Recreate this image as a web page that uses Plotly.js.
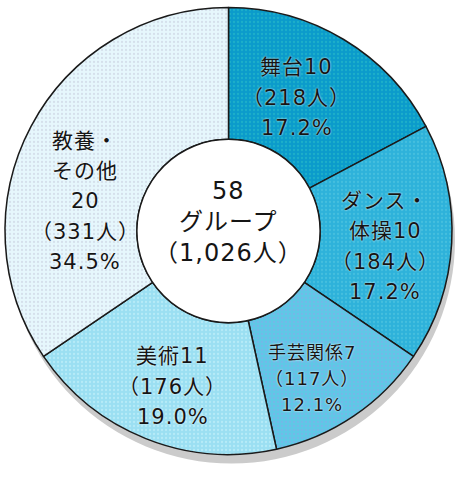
<!DOCTYPE html>
<html><head><meta charset="utf-8">
<script src="https://cdn.plot.ly/plotly-3.0.1.min.js"></script>
<style>html,body{margin:0;padding:0;background:#fff;}#chart{width:463px;height:478px;}
.annotation-text{letter-spacing:1px;}</style>
</head><body><div id="chart"></div>
<script>
const categories = ['舞台', 'ダンス・体操', '手芸関係', '美術', '教養・その他'];
const categoryLines = [['舞台10'], ['ダンス・', '体操10'], ['手芸関係7'], ['美術11'], ['教養・', 'その他', '20']];
const groups = [10, 10, 7, 11, 20];
const people = [218, 184, 117, 176, 331];
const percents = ['17.2%', '17.2%', '12.1%', '19.0%', '34.5%'];
const centerLines = ['58', 'グループ', '（1,026人）'];

const colors = ['#0b9bcb', '#2eb2da', '#5fc7e6', '#9bdff2', '#e6f7fc'];
const dotColors = ['#2ec2c8', '#5ccbe2', '#8aa8ea', '#d0f6fc', '#c4c8dc'];
// label placement style (fraction of radius, angle nudge in degrees, font size)
const labelRFrac = [0.67, 0.704, 0.76, 0.74, 0.655];
const labelAngNudge = [-4, 2.6, 4.5, -2, -16.3];
const labelSizes = [21, 21, 18, 21, 21];

const W = 463, H = 478;
const x0 = 5, x1 = 452, y0 = 5, y1 = 457;
const sdx = 3, sdy = 9;
const holeFrac = 0.41;
const cx = (x0 + x1) / 2, cy = (y0 + y1) / 2;
const R = Math.min(x1 - x0, y1 - y0) / 2;
const r = R * holeFrac;
const FONT = '"DejaVu Sans", "Noto Sans CJK JP", sans-serif';
const halo = '0 0 2px #ffffff';

const shadow = {
  type: 'pie', values: [1], labels: ['shadow'], sort: false,
  marker: {colors: ['#cbcbcb'], line: {width: 0}},
  textinfo: 'none', hoverinfo: 'skip', showlegend: false,
  domain: {x: [(x0 + sdx) / W, (x1 + sdx) / W], y: [1 - (y1 + sdy) / H, 1 - (y0 + sdy) / H]}
};

const main = {
  type: 'pie', values: groups, labels: categories,
  sort: false, direction: 'clockwise', rotation: 0, hole: holeFrac,
  textinfo: 'none',
  marker: {colors: colors, line: {color: '#1a1a1a', width: 1.5},
    pattern: {shape: '.', fgcolor: dotColors, size: 4, solidity: 0.25, fillmode: 'overlay'}},
  hoverinfo: 'none', showlegend: false,
  domain: {x: [x0 / W, x1 / W], y: [1 - y1 / H, 1 - y0 / H]}
};

const center = {
  type: 'pie', values: [1], labels: ['center'], sort: false,
  marker: {colors: ['#ffffff'], line: {color: '#1a1a1a', width: 1.5}},
  textinfo: 'none', hoverinfo: 'skip', showlegend: false,
  domain: {x: [(cx - r) / W, (cx + r) / W], y: [1 - (cy + r) / H, 1 - (cy - r) / H]}
};

const annotations = [];
function addBlock(lines, px, py, size, gap) {
  const n = lines.length;
  lines.forEach((t, i) => {
    annotations.push({
      text: t, x: px / W, y: 1 - py / H, xref: 'paper', yref: 'paper',
      xanchor: 'center', yanchor: 'middle',
      yshift: ((n - 1) / 2 - i) * gap, showarrow: false,
      font: {family: FONT, size: size, color: '#151515', shadow: halo}
    });
  });
}

const total = groups.reduce((a, b) => a + b, 0);
let cum = 0;
groups.forEach((g, i) => {
  const mid = (cum + g / 2) / total * 2 * Math.PI + labelAngNudge[i] * Math.PI / 180;
  cum += g;
  const lr = labelRFrac[i] * R;
  const px = cx + lr * Math.sin(mid);
  const py = cy - lr * Math.cos(mid);
  const lines = categoryLines[i].concat(['（' + people[i] + '人）', percents[i]]);
  addBlock(lines, px, py, labelSizes[i], labelSizes[i] * 1.45);
});
addBlock(centerLines, cx, cy - 9, 24, 31);

const layout = {
  width: W, height: H, margin: {l: 0, r: 0, t: 0, b: 0},
  paper_bgcolor: '#fff', showlegend: false, annotations: annotations
};

Plotly.newPlot('chart', [shadow, main, center], layout, {staticPlot: true});
</script></body></html>
